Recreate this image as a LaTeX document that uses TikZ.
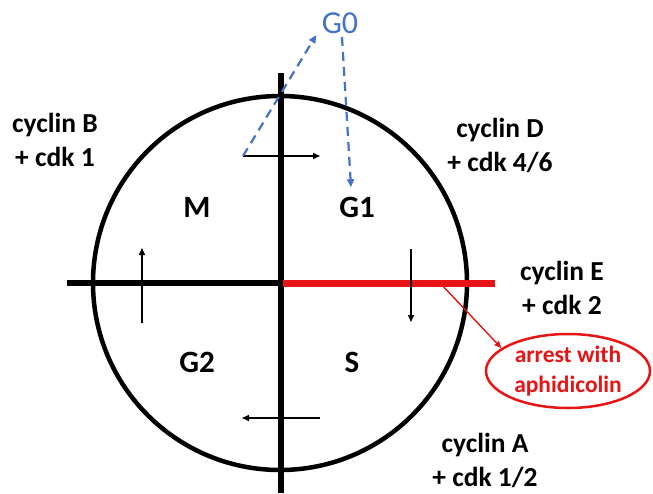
\documentclass[tikz,border=0pt]{standalone}
\usepackage{fontspec}
\setmainfont{Carlito}
\definecolor{ccblue}{RGB}{68,114,196}
\definecolor{ccred}{RGB}{230,20,20}
\usetikzlibrary{arrows.meta,shapes.geometric}

\begin{document}
\begin{tikzpicture}[x=1pt,y=-1pt,
    phase/.style={font=\fontsize{31}{32}\selectfont\bfseries},
    cyclinlbl/.style={align=center, font=\fontsize{27.5}{34}\selectfont\bfseries},
    flow/.style={-{Triangle[length=7pt,width=6pt]}, line width=1.4pt},
    gzero/.style={-{Triangle[length=8pt,width=7pt]}, ccblue, line width=2.2pt,
                  dash pattern=on 9pt off 6pt},
    stopbox/.style={ellipse, draw=ccred, line width=2.5pt, text=ccred,
                    minimum width=164pt, minimum height=74pt, inner sep=0pt,
                    align=center, font=\fontsize{23.5}{30}\selectfont\bfseries}
  ]
    \useasboundingbox (0,0) rectangle (653,493);

    % cell cycle wheel
    \draw[line width=4.5pt] (280,283) circle[radius=187pt];
    \draw[line width=5.5pt] (281,73) -- (281,493);
    \draw[line width=6pt] (67,283) -- (283,283);
    \draw[ccred, line width=7pt] (283,283) -- (495,283);

    % phases
    \node[phase] (M)  at (197,207) {M};
    \node[phase] (G1) at (357,207) {G1};
    \node[phase] (G2) at (197,362) {G2};
    \node[phase] (S)  at (352,362) {S};
    \node[font=\fontsize{32}{32}\selectfont, text=ccblue] (G0) at (340,23) {G0};

    % cyclin / cdk pairs
    \node[cyclinlbl] (cycB) at (55,140)  {cyclin B\\+ cdk 1};
    \node[cyclinlbl] (cycD) at (500,145) {cyclin D\\+ cdk 4/6};
    \node[cyclinlbl] (cycE) at (562,288) {cyclin E\\+ cdk 2};
    \node[cyclinlbl] (cycA) at (485,460) {cyclin A\\+ cdk 1/2};

    % direction of the cycle
    \coordinate (topA) at (243,156);  \coordinate (topB) at (320,156);
    \coordinate (rgtA) at (411,249);  \coordinate (rgtB) at (411,322);
    \coordinate (botA) at (320,418);  \coordinate (botB) at (242,418);
    \coordinate (lftA) at (142,323);  \coordinate (lftB) at (142,248);
    \draw[flow] (topA) -- (topB);
    \draw[flow] (rgtA) -- (rgtB);
    \draw[flow] (botA) -- (botB);
    \draw[flow] (lftA) -- (lftB);

    % exit to G0 and re-entry
    \draw[gzero] (topA) -- ([xshift=-2pt,yshift=2pt]G0.south west);
    \draw[gzero] ([xshift=2pt]G0.south) -- ([xshift=-6pt,yshift=6pt]G1.north);

    % aphidicolin block
    \node[stopbox] (arrest) at (568,371) {arrest with\\aphidicolin};
    \coordinate (block) at (440,283);
    \draw[flow, ccred] (block) -- (arrest.161);
  \end{tikzpicture}
\end{document}
